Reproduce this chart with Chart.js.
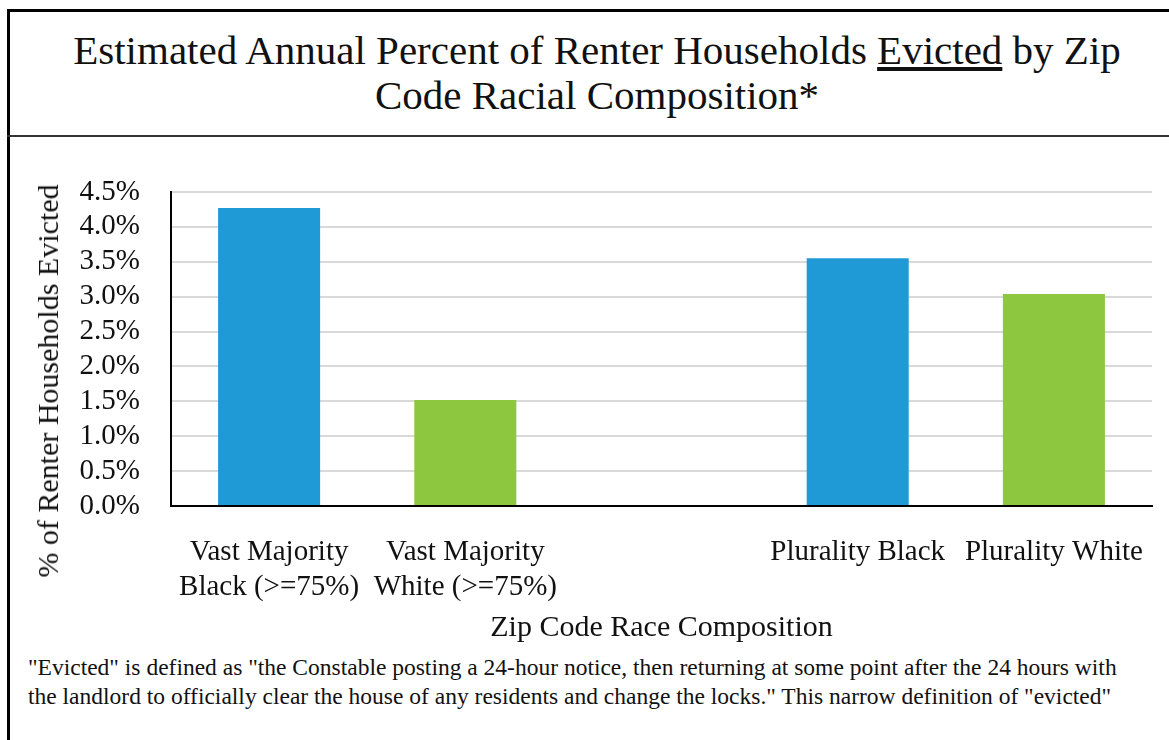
<!DOCTYPE html>
<html lang="en">
<head>
<meta charset="UTF-8">
<title>Evictions by Zip Code Racial Composition</title>
<script src="https://cdn.jsdelivr.net/npm/chart.js"></script>
<style>
    body { margin: 0; background: #fff; font-family: "Liberation Serif", serif; color: #111; overflow: hidden; }
    .frame { position: absolute; left: 7px; top: 9px; width: 1200px; height: 800px; border: 3px solid #000; box-sizing: border-box; }
    .divider { position: absolute; left: 7px; top: 135px; width: 1200px; height: 2px; background: #333; }
    .title { position: absolute; left: 7px; top: 28px; width: 1180px; text-align: center; font-size: 41px; line-height: 45px; }
    .ytitle { position: absolute; left: 48px; top: 381px; font-size: 30px; white-space: nowrap; transform: translate(-50%, -50%) rotate(-90deg); }
    .note { position: absolute; left: 28px; top: 653px; font-size: 23.5px; line-height: 29px; white-space: nowrap; }
    #chart { position: absolute; left: 0; top: 140px; }
</style>
</head>
<body>
    <div class="frame"></div>
    <div class="divider"></div>
    <div class="title">Estimated Annual Percent of Renter Households <u>Evicted</u> by Zip<br>Code Racial Composition*</div>
    <canvas id="chart" width="1169" height="510"></canvas>
    <div class="ytitle">% of Renter Households Evicted</div>
    <div class="note">"Evicted" is defined as "the Constable posting a 24-hour notice, then returning at some point after the 24 hours with<br>the landlord to officially clear the house of any residents and change the locks." This narrow definition of "evicted"</div>
</body>
</html>
<script>
// data (percent)
const categories = [['Vast Majority', 'Black (>=75%)'], ['Vast Majority', 'White (>=75%)'], '', 'Plurality Black', 'Plurality White'];
const evicted = [4.27, 1.52, null, 3.55, 3.04];
const barColors = ['#1f9ad6', '#8dc63f', '#ffffff', '#1f9ad6', '#8dc63f'];
const yMin = 0;
const yMax = 4.5;
const yStep = 0.5;

const serif = '"Liberation Serif", serif';

new Chart(document.getElementById('chart'), {
    type: 'bar',
    data: {
        labels: categories,
        datasets: [{
            data: evicted,
            backgroundColor: barColors,
            borderWidth: 0,
            barPercentage: 0.52,
            categoryPercentage: 1
        }]
    },
    options: {
        responsive: false,
        animation: false,
        layout: { padding: { top: 52, right: 17, left: 0, bottom: 0 } },
        plugins: {
            legend: { display: false },
            tooltip: { enabled: false }
        },
        scales: {
            x: {
                grid: { display: false },
                border: { display: true, color: '#000', width: 2 },
                ticks: {
                    color: '#111',
                    padding: 21,
                    maxRotation: 0,
                    autoSkip: false,
                    font: { family: serif, size: 29, lineHeight: 1.2 }
                },
                title: {
                    display: true,
                    text: 'Zip Code Race Composition',
                    color: '#111',
                    padding: { top: 0, bottom: 4 },
                    font: { family: serif, size: 30, lineHeight: 1.2 }
                },
                afterFit: s => { s.height = 144; }
            },
            y: {
                min: yMin,
                max: yMax,
                grid: { color: '#d9d9d9', lineWidth: 2, drawTicks: false },
                border: { display: true, color: '#000', width: 2 },
                ticks: {
                    stepSize: yStep,
                    autoSkip: false,
                    color: '#111',
                    padding: 31,
                    font: { family: serif, size: 29 },
                    callback: v => v.toFixed(1) + '%'
                },
                afterFit: s => { s.width = 171; }
            }
        }
    }
});
</script>
